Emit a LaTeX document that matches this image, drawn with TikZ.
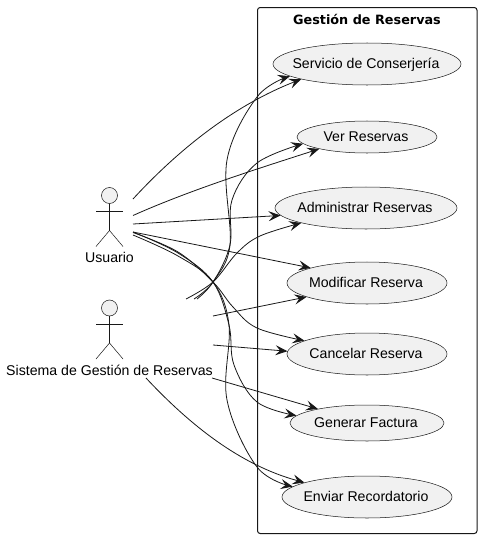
\documentclass[tikz,border=0pt]{standalone}
\usepackage{fontspec}
\setmainfont{Liberation Sans}
\newfontfamily\titlefont{DejaVu Sans}
\usetikzlibrary{shapes.geometric,arrows.meta}
\definecolor{ink}{HTML}{181818}
\definecolor{uc}{HTML}{F1F1F1}
\tikzset{
  x=0.75pt,y=-0.75pt,
  usecase/.style={shape=ellipse,draw=ink,line width=0.38pt,fill=uc,inner sep=0pt,font=\fontsize{10.6}{12}\selectfont,text=black},
  figure/.style={draw=ink,line width=0.38pt},
  actorname/.style={font=\fontsize{10.6}{12}\selectfont,text=black,inner sep=0pt},
  conn/.style={draw=ink,line width=0.6pt,-{Stealth[length=9pt,width=7.5pt,inset=3.5pt]}},
}
\newcommand{\uct}[1]{\makebox[0pt]{\hspace*{-1.5pt}\smash{\raisebox{-3.7pt}{#1}}}}
\newcommand{\actorfig}[2]{%
  \draw[figure,fill=uc] (#1,#2) circle[radius=6pt];
  \draw[figure] (#1,#2+8) -- (#1,#2+35);
  \draw[figure] (#1-13.5,#2+16) -- (#1+13.5,#2+16);
  \draw[figure] (#1-13.5,#2+51) -- (#1,#2+35) -- (#1+13.5,#2+51);
}
\begin{document}
\begin{tikzpicture}
\useasboundingbox (0,0) rectangle (482,539);
\draw[ink,line width=0.75pt,rounded corners=2pt] (257.5,7.5) rectangle (477,533.5);
\node[inner sep=0pt,font=\titlefont\bfseries\fontsize{9.6}{12}\selectfont] (title) at (367,19) {Gestión de Reservas};

\node[usecase,minimum width=141pt,minimum height=31.5pt] (serv) at (367,64) {\uct{Servicio de Conserjería}};
\node[usecase,minimum width=105pt,minimum height=24pt] (ver) at (367,137) {\uct{Ver Reservas}};
\node[usecase,minimum width=136.5pt,minimum height=31.5pt] (adm) at (366,208) {\uct{Administrar Reservas}};
\node[usecase,minimum width=120pt,minimum height=31.5pt] (mod) at (367,283) {\uct{Modificar Reserva}};
\node[usecase,minimum width=120pt,minimum height=31.5pt] (can) at (367,354) {\uct{Cancelar Reserva}};
\node[usecase,minimum width=115.5pt,minimum height=27pt] (gen) at (367,423) {\uct{Generar Factura}};
\node[usecase,minimum width=127.5pt,minimum height=31.5pt] (env) at (367,497) {\uct{Enviar Recordatorio}};

\actorfig{109.5}{195.5}
\actorfig{109.5}{308}
\node[actorname] (usuario) at (109.5,257) {Usuario};
\node[actorname] (sistema) at (109.5,370) {Sistema de Gestión de Reservas};

\coordinate (ua) at (133,199);
\coordinate (ub) at (133,215.5);
\coordinate (uc1) at (133,224);
\coordinate (ud) at (133,232);
\coordinate (ue) at (133,232.5);
\coordinate (uf) at (133,232);
\coordinate (ug) at (133,235);
\coordinate (sa) at (197,299);
\coordinate (sb) at (194,299);
\coordinate (sc) at (186,299);
\coordinate (sd) at (213,316);
\coordinate (se) at (213,345);
\coordinate (sf) at (212,378);
\coordinate (sg) at (146,378);

\draw[conn] (ua) .. controls (180,148) and (235,105) .. (serv.193);
\draw[conn] (ub) .. controls (190,190) and (260,168) .. (ver.194);
\draw[conn] (uc1) -- (adm.185.5);
\draw[conn] (ud) -- (mod.165.5);
\draw[conn] plot[smooth,tension=0.6] coordinates {(ue) (178,252) (213,282) (233,307) (257,328) (can.168)};
\draw[conn] plot[smooth,tension=0.6] coordinates {(uf) (178,253) (213,282) (229,325) (234,365) (257,402) (gen.174)};
\draw[conn] plot[smooth,tension=0.6] coordinates {(ug) (178,256) (213,282) (229,325) (227,400) (257,467) (env.172)};

\draw[conn] plot[smooth,tension=0.6] coordinates {(sa) (213,282) (230,245) (227,160) (257,97) (serv.189)};
\draw[conn] plot[smooth,tension=0.6] coordinates {(sb) (213,282) (230,245) (232,200) (257,163) (ver.186)};
\draw[conn] plot[smooth,tension=0.6] coordinates {(sc) (213,282) (237,253) (260,236) (adm.193.5)};
\draw[conn] (sd) -- (mod.193);
\draw[conn] (se) -- (can.178);
\draw[conn] (sf) -- (gen.164);
\draw[conn] (sg) .. controls (190,425) and (240,465) .. (env.167);
\end{tikzpicture}
\end{document}
